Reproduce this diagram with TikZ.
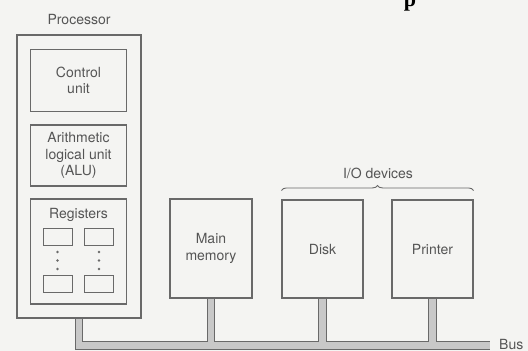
\documentclass[tikz,border=0pt]{standalone}
\usepackage{fontspec}
\setmainfont{TeX Gyre Heros}
\newfontfamily\titlefont{Liberation Serif}
\usetikzlibrary{decorations.pathreplacing,backgrounds}
\definecolor{bg}{RGB}{244,244,242}
\definecolor{ln}{RGB}{105,105,105}
\definecolor{tx}{RGB}{85,85,85}
\definecolor{busfill}{RGB}{200,200,200}
\begin{document}
\begin{tikzpicture}[x=1pt,y=-1pt,
  txtfont/.style={font=\fontsize{14}{16.5}\selectfont},
  box/.style={draw=ln, line width=1.1pt, rectangle, inner sep=0pt, text=tx, align=center, txtfont},
  regbox/.style={draw=ln, line width=1pt, rectangle, inner sep=0pt, minimum width=29pt, minimum height=17pt},
  lbl/.style={text=tx, inner sep=0pt, txtfont},
  busout/.style={draw=ln, line width=8.6pt, line cap=butt, line join=miter},
  busin/.style={draw=busfill, line width=6.2pt, line cap=butt, line join=miter},
  regdot/.style={fill=ln}
]
\useasboundingbox (0,0) rectangle (528,351);
\clip (0,0) rectangle (528,351);

% cropped heading glyph
\node[anchor=base, inner sep=0pt, font=\titlefont\bfseries\fontsize{22}{22}\selectfont] (ttl) at (410,6) {p};

% processor
\node[lbl] (proclbl) at (79,20) {Processor};
\node[box, minimum width=124pt, minimum height=283pt] (proc) at (79,176.5) {};
\node[box, minimum width=96pt, minimum height=62pt] (ctrl) at (78.5,80.5) {Control\\unit};
\node[box, minimum width=96pt, minimum height=61pt] (alu) at (78.5,155.5) {Arithmetic\\logical unit\\(ALU)};
\node[box, minimum width=96pt, minimum height=105pt] (regs) at (78.5,251.5) {};
\node[lbl, anchor=base] (regslbl) at (78.5,218) {Registers};
\node[regbox] (r1) at (57.5,236.5) {};
\node[regbox] (r2) at (99,236.5) {};
\node[regbox] (r3) at (57.5,283.5) {};
\node[regbox] (r4) at (99,283.5) {};
\foreach \yy in {252,260.5,269}{
  \fill[regdot] (57.5,\yy) circle (1.4pt);
  \fill[regdot] (99,\yy) circle (1.4pt);
}

% memory and devices
\node[box, minimum width=82pt, minimum height=99pt] (mem) at (211,248.5) {Main\\memory};
\node[box, minimum width=81pt, minimum height=98pt] (disk) at (322.5,249) {Disk};
\node[box, minimum width=81pt, minimum height=98pt] (prn) at (432.5,249) {Printer};

% brace
\draw[ln, line width=0.9pt, decorate, decoration={brace, amplitude=5pt}]
  ([yshift=9pt]disk.north west) -- ([yshift=9pt]prn.north east);
\node[lbl, anchor=base] (iolbl) at (378,178) {I/O devices};

% bus
\coordinate (busR) at (490,345.5);
\node[lbl, anchor=base west] (buslbl) at (499,349) {Bus};
\begin{scope}[on background layer]
  \fill[bg] (0,0) rectangle (528,351);
  \draw[busout] (proc.south) -- (proc.south |- busR) -- (busR);
  \draw[busout] (mem.south) -- (mem.south |- busR);
  \draw[busout] (disk.south) -- (disk.south |- busR);
  \draw[busout] (prn.south) -- (prn.south |- busR);
  \draw[busin] (proc.south) -- (proc.south |- busR) -- (busR);
  \draw[busin] (mem.south) -- (mem.south |- busR);
  \draw[busin] (disk.south) -- (disk.south |- busR);
  \draw[busin] (prn.south) -- (prn.south |- busR);
\end{scope}
\end{tikzpicture}
\end{document}
